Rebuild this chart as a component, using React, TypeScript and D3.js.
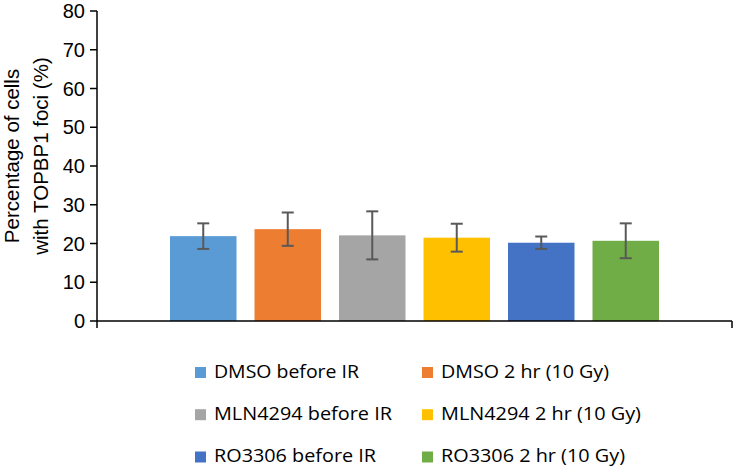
import React from "react";
import * as d3 from "d3";

const categories = [
  "DMSO before IR",
  "DMSO 2 hr (10 Gy)",
  "MLN4294 before IR",
  "MLN4294 2 hr (10 Gy)",
  "RO3306 before IR",
  "RO3306 2 hr (10 Gy)",
];
const values = [21.9, 23.7, 22.1, 21.5, 20.2, 20.7];
const errors = [3.3, 4.3, 6.2, 3.6, 1.6, 4.5];
const colors = ["#5B9BD5", "#ED7D31", "#A5A5A5", "#FFC000", "#4472C4", "#70AD47"];
const yTicks = [0, 10, 20, 30, 40, 50, 60, 70, 80];
const legendWidths = [145, 168, 178, 200, 162, 184];

export default function App() {
  const W = 734;
  const H = 468;
  const x0 = 97;
  const x1 = 732;
  const yTop = 11;
  const yBot = 321;
  const y = d3.scaleLinear().domain([0, 80]).range([yBot, yTop]);
  const x = d3
    .scaleBand<string>()
    .domain(categories)
    .range([x0, x1])
    .paddingInner(0.213)
    .paddingOuter(0.864);
  const axisFont = "'Liberation Sans', Arial, sans-serif";
  const legendFont = "'Open Sans', Lato, sans-serif";
  const errColor = "#595959";
  const capHalf = 6;

  const legendCols = [195, 422];
  const legendRows = [372.5, 414.7, 457];

  return (
    <svg
      width={W}
      height={H}
      style={{ position: "absolute", left: 0, top: 0, background: "#fff" }}
    >
      <rect x={0} y={0} width={W} height={H} fill="#fff" />
      {categories.map((c, i) => (
        <rect
          key={c}
          x={x(c)}
          y={y(values[i])}
          width={x.bandwidth()}
          height={yBot - y(values[i])}
          fill={colors[i]}
        />
      ))}
      {categories.map((c, i) => {
        const cx = (x(c) as number) + x.bandwidth() / 2;
        const t = y(values[i] + errors[i]);
        const b = y(values[i] - errors[i]);
        return (
          <g key={"e" + c} stroke={errColor} strokeWidth={2}>
            <line x1={cx} x2={cx} y1={t} y2={b} />
            <line x1={cx - capHalf} x2={cx + capHalf} y1={t} y2={t} />
            <line x1={cx - capHalf} x2={cx + capHalf} y1={b} y2={b} />
          </g>
        );
      })}
      <g stroke="#000" strokeWidth={1.5}>
        <line x1={x0} x2={x0} y1={yTop} y2={yBot + 7} />
        <line x1={x0} x2={x1} y1={yBot} y2={yBot} />
        <line x1={x1} x2={x1} y1={yBot} y2={yBot + 7} />
        {yTicks.map((t) => (
          <line key={t} x1={x0 - 7} x2={x0} y1={y(t)} y2={y(t)} />
        ))}
      </g>
      {yTicks.map((t) => (
        <text
          key={"l" + t}
          x={85}
          y={y(t)}
          dy="0.36em"
          textAnchor="end"
          fontFamily={axisFont}
          fontSize={20}
          fill="#000"
        >
          {t}
        </text>
      ))}
      <text
        transform={`translate(19,156) rotate(-90)`}
        textAnchor="middle"
        fontFamily={axisFont}
        fontSize={20.5}
        fill="#000"
      >
        <tspan x={0} dy="0">Percentage of cells</tspan>
        <tspan x={0} dy="29">with TOPBP1 foci (%)</tspan>
      </text>
      {categories.map((c, i) => {
        const lx = legendCols[i % 2];
        const ly = legendRows[Math.floor(i / 2)];
        return (
          <g key={"lg" + c}>
            <rect x={lx} y={ly - 5.5} width={11} height={11} fill={colors[i]} />
            <text
              x={lx + 19}
              y={ly + 5.2}
              fontFamily={legendFont}
              fontSize={18}
              fill="#000"
              textLength={legendWidths[i]}
              lengthAdjust="spacingAndGlyphs"
            >
              {c}
            </text>
          </g>
        );
      })}
    </svg>
  );
}
